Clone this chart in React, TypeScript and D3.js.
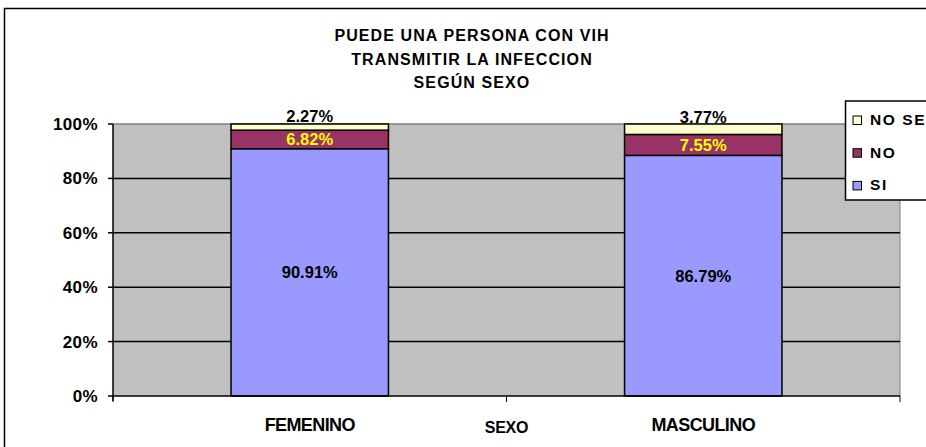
import React from "react";
import * as d3 from "d3";

const categories = ["FEMENINO", "MASCULINO"];
const seriesNames = ["SI", "NO", "NO SE"];
const si = [90.91, 86.79];
const no = [6.82, 7.55];
const noSe = [2.27, 3.77];
const yTicks = [0, 20, 40, 60, 80, 100];
const titleLines = ["PUEDE UNA PERSONA CON VIH", "TRANSMITIR LA INFECCION", "SEGÚN SEXO"];
const colors = ["#9999FF", "#993366", "#FFFFCC"];
const valuesBySeries: Record<string, number[]> = { SI: si, NO: no, "NO SE": noSe };

export default function App() {
  const W = 926, H = 447;
  const left = 113, right = 900, top = 124, bottom = 396;
  const x = d3.scaleBand().domain(categories).range([left, right]).paddingInner(0.6).paddingOuter(0.3);
  const y = d3.scaleLinear().domain([0, 1]).range([bottom, top]);
  const yPct = d3.scaleLinear().domain([0, 100]).range([bottom, top]);
  const rows = categories.map((c, i) => ({ cat: c, SI: si[i], NO: no[i], "NO SE": noSe[i] }));
  const stack = d3.stack<any>().keys(seriesNames).offset(d3.stackOffsetExpand)(rows);
  const font = "Arial, 'Liberation Sans', sans-serif";
  const step = (right - left) / categories.length;

  return (
    <svg width={W} height={H} style={{ position: "absolute", left: 0, top: 0, background: "#fff" }} fontFamily={font}>
      <rect x={4.5} y={8.5} width={1000} height={1000} fill="#fff" stroke="#000" strokeWidth={1.5} />
      {titleLines.map((t, i) => (
        <text key={i} x={472} y={41 + i * 23.6} textAnchor="middle" fontSize={16} fontWeight="bold" letterSpacing={1.1}>{t}</text>
      ))}
      <rect x={left} y={top} width={right - left} height={bottom - top} fill="#C0C0C0" />
      <line x1={left} x2={right} y1={top} y2={top} stroke="#808080" strokeWidth={1.5} />
      <line x1={right} x2={right} y1={top} y2={bottom} stroke="#808080" strokeWidth={1} />
      {yTicks.filter(t => t > 0 && t < 100).map(t => (
        <line key={t} x1={left} x2={right} y1={yPct(t)} y2={yPct(t)} stroke="#000" strokeWidth={1.5} />
      ))}
      {stack.map((s, k) => s.map((d, j) => (
        <rect key={k + "-" + j} x={x(categories[j])!} y={y(d[1])} width={x.bandwidth()} height={y(d[0]) - y(d[1])}
          fill={colors[k]} stroke="#000" strokeWidth={1.5} />
      )))}
      <line x1={left} x2={left} y1={top} y2={bottom + 5} stroke="#000" strokeWidth={1.5} />
      <line x1={left} x2={right} y1={bottom} y2={bottom} stroke="#000" strokeWidth={1.5} />
      {yTicks.map(t => (
        <g key={t}>
          <line x1={left - 5} x2={left} y1={yPct(t)} y2={yPct(t)} stroke="#000" strokeWidth={1.5} />
          <text x={left - 15} y={yPct(t) + 6} textAnchor="end" fontSize={17} fontWeight="bold" letterSpacing={0.4}>{t + "%"}</text>
        </g>
      ))}
      {[0, 1, 2].map(i => (
        <line key={i} x1={left + i * step} x2={left + i * step} y1={bottom} y2={bottom + 6} stroke="#000" strokeWidth={1} />
      ))}
      {categories.map(c => (
        <text key={c} x={x(c)! + x.bandwidth() / 2} y={431} textAnchor="middle" fontSize={18} fontWeight="bold" letterSpacing={-0.6}>{c}</text>
      ))}
      <text x={left + step} y={433} textAnchor="middle" fontSize={16} fontWeight="bold" letterSpacing={-0.3}>SEXO</text>
      {stack.map((s, k) => s.map((d, j) => {
        const cx = x(categories[j])! + x.bandwidth() / 2;
        const v = valuesBySeries[seriesNames[k]][j];
        const cy = k === 2 ? top - 8 + j : (y(d[0]) + y(d[1])) / 2;
        return (
          <text key={"l" + k + "-" + j} x={cx} y={cy + 6} textAnchor="middle" fontSize={16.5} fontWeight="bold"
            fill={k === 1 ? "#FFFF00" : "#000"}>{v.toFixed(2) + "%"}</text>
        );
      }))}
      <rect x={845.5} y={101} width={200} height={99} fill="#fff" stroke="#000" strokeWidth={1.5} />
      {["NO SE", "NO", "SI"].map((n, i) => {
        const ci = seriesNames.indexOf(n);
        const base = 125 + i * 32.7;
        return (
          <g key={n}>
            <rect x={853} y={base - 9} width={8.5} height={8.5} fill={colors[ci]} stroke="#000" strokeWidth={1} />
            <text x={870} y={base} fontSize={15.5} fontWeight="bold" letterSpacing={1.6}>{n}</text>
          </g>
        );
      })}
    </svg>
  );
}
